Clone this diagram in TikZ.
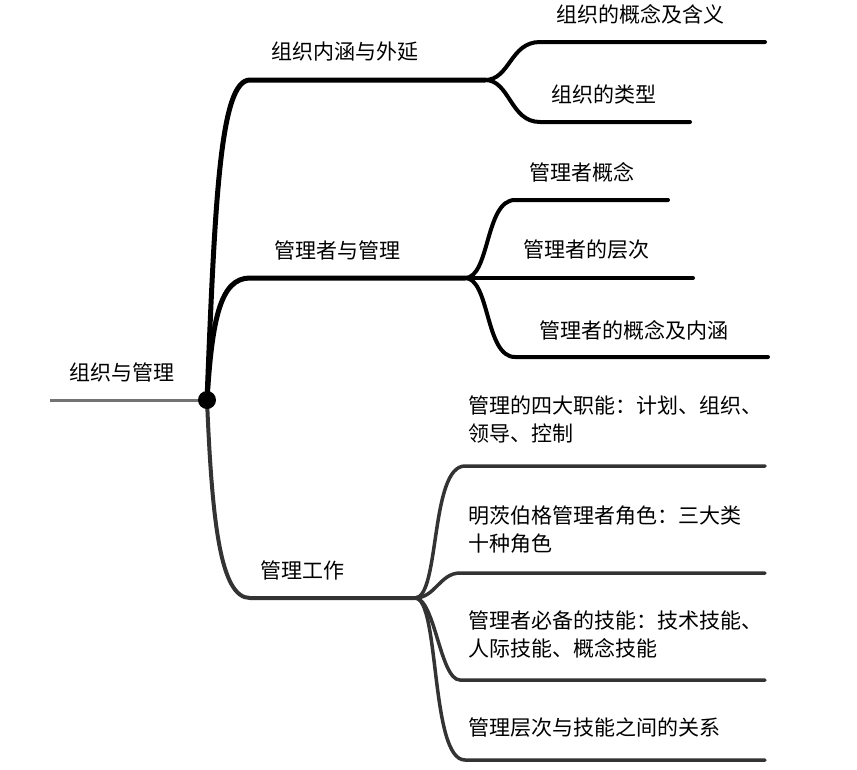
\documentclass[tikz,border=0pt]{standalone}
\usepackage{fontspec}
\newfontfamily\cjk{Noto Sans CJK SC}
\tikzset{
 br/.style={line width=5pt,line cap=round,black},
 sb/.style={line width=4pt,line cap=round,black},
 gbr/.style={line width=4pt,line cap=round,black!80},
 gsb/.style={line width=3.5pt,line cap=round,black!80},
 lbl/.style={font=\cjk\fontsize{21}{28}\selectfont,inner sep=0pt},
 ml/.style={lbl,align=left,anchor=north west}
}
\begin{document}
\begin{tikzpicture}[x=1pt,y=-1pt]
\useasboundingbox (0,0) rectangle (857,769);
\coordinate (L) at (50,400);
\coordinate (H) at (207,400);
\coordinate (a0) at (250,80); \coordinate (a1) at (485,80);
\coordinate (b0) at (250,278); \coordinate (b1) at (465,278);
\coordinate (c0) at (250,598); \coordinate (c1) at (415,598);
\coordinate (a2) at (765,42); \coordinate (a3) at (690,122);
\coordinate (b2) at (668,200); \coordinate (b3) at (693,278); \coordinate (b4) at (768,357);
\coordinate (c2) at (765,466); \coordinate (c3) at (765,573); \coordinate (c4) at (765,680); \coordinate (c5) at (765,760);
\draw[line width=3pt,black!55] (L) -- (H);
\draw[br] (H) .. controls (215,200) and (220,80) .. (a0) -- (a1);
\draw[br] (H) .. controls (212,320) and (220,278) .. (b0) -- (b1);
\draw[gbr] (H) .. controls (212,520) and (220,598) .. (c0) -- (c1);
\draw[sb] (a1) .. controls (510,80) and (510,42) .. (540,42) -- (a2);
\draw[sb] (a1) .. controls (510,80) and (510,122) .. (540,122) -- (a3);
\draw[sb] (b1) .. controls (490,278) and (485,200) .. (515,200) -- (b2);
\draw[sb] (b1) -- (b3);
\draw[sb] (b1) .. controls (490,278) and (485,357) .. (515,357) -- (b4);
\draw[gsb] (c1) .. controls (440,598) and (430,466) .. (465,466) -- (c2);
\draw[gsb] (c1) .. controls (435,598) and (440,573) .. (460,573) -- (c3);
\draw[gsb] (c1) .. controls (435,598) and (440,680) .. (460,680) -- (c4);
\draw[gsb] (c1) .. controls (440,598) and (430,760) .. (465,760) -- (c5);
\fill (H) circle (9);
\node[lbl] (t0) at (122,372) {组织与管理};
\node[lbl] (t1) at (345,52) {组织内涵与外延};
\node[lbl] (t2) at (337,250) {管理者与管理};
\node[lbl] (t3) at (302,570) {管理工作};
\node[lbl] (t4) at (640,14) {组织的概念及含义};
\node[lbl] (t5) at (604,94) {组织的类型};
\node[lbl] (t6) at (582,172) {管理者概念};
\node[lbl] (t7) at (586,250) {管理者的层次};
\node[lbl] (t8) at (634,330) {管理者的概念及内涵};
\node[ml] (t9) at (468,396) {管理的四大职能：计划、组织、\\领导、控制};
\node[ml] (t10) at (468,506) {明茨伯格管理者角色：三大类\\十种角色};
\node[ml] (t11) at (468,611) {管理者必备的技能：技术技能、\\人际技能、概念技能};
\node[lbl,anchor=west] (t12) at (468,728) {管理层次与技能之间的关系};
\end{tikzpicture}
\end{document}
